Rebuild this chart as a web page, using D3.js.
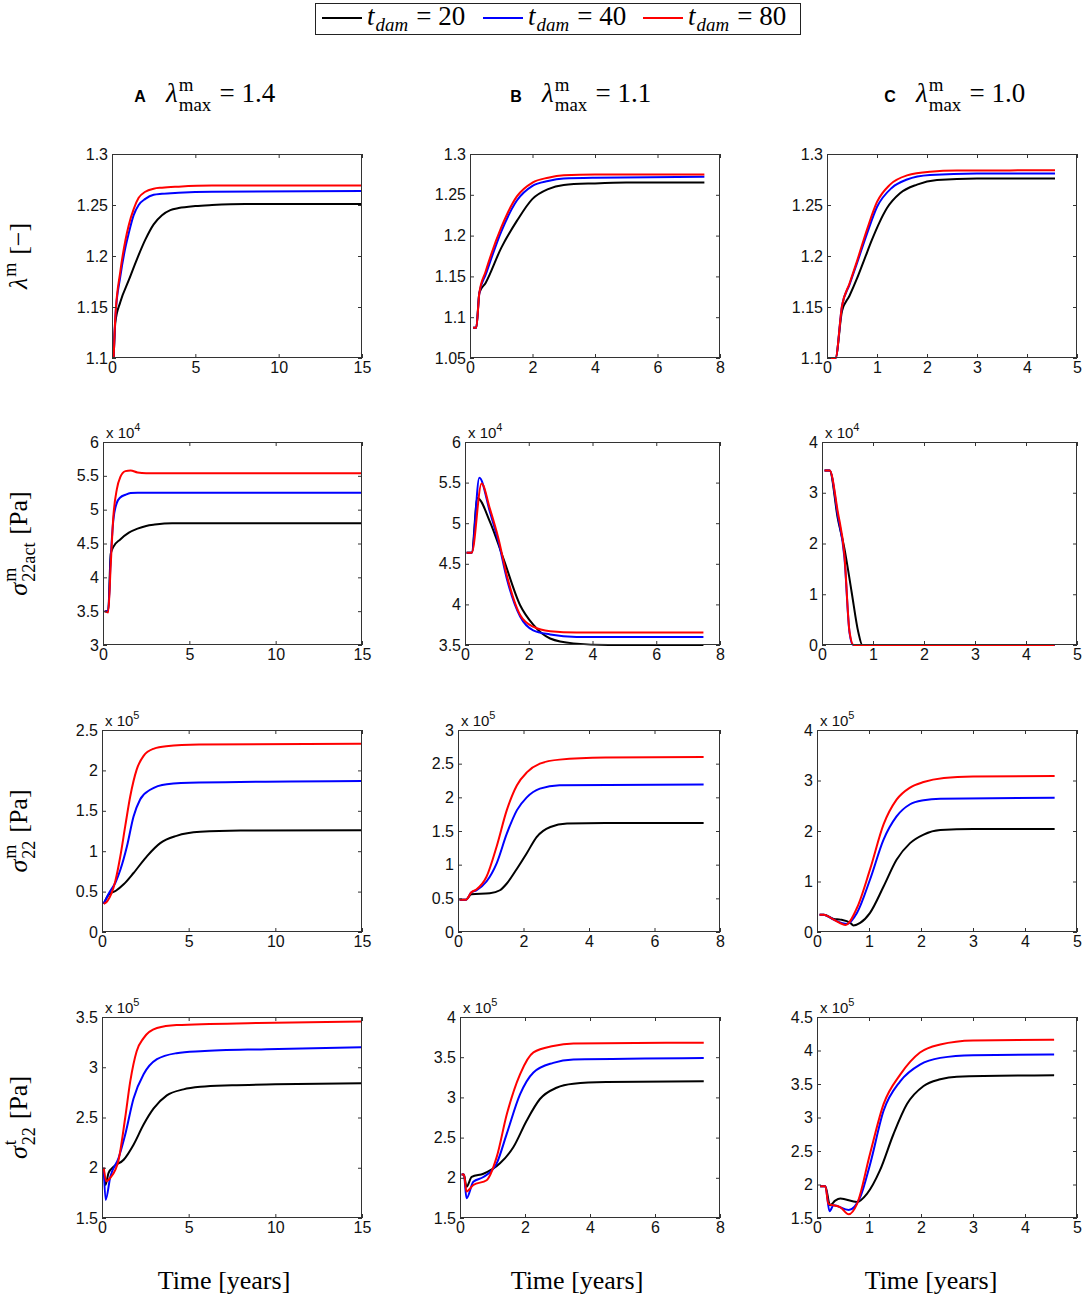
<!DOCTYPE html>
<html><head><meta charset="utf-8">
<script src="https://cdn.jsdelivr.net/npm/d3@7"></script>
<style>
body{margin:0;background:#fff;}
svg{display:block;}
text{white-space:pre;}
</style></head>
<body><svg id="c" width="1084" height="1298"></svg>
<script>
// ---------------- DATA ----------------
const seriesNames = ["t_dam = 20", "t_dam = 40", "t_dam = 80"];
const seriesValues = ["20", "40", "80"];
const columnLetters = ["A", "B", "C"];
const lambdaMax = ["1.4", "1.1", "1.0"];

const xDomainA = [0, 15], xTicksA = [0, 5, 10, 15];
const xDomainB = [0, 8],  xTicksB = [0, 2, 4, 6, 8];
const xDomainC = [0, 5],  xTicksC = [0, 1, 2, 3, 4, 5];

// row 1 : lambda^m [-]
const yTicks1A = [1.1, 1.15, 1.2, 1.25, 1.3];
const yTicks1B = [1.05, 1.1, 1.15, 1.2, 1.25, 1.3];
const yTicks1C = [1.1, 1.15, 1.2, 1.25, 1.3];
// row 2 : sigma_22act (x 10^4 Pa)
const yTicks2A = [3, 3.5, 4, 4.5, 5, 5.5, 6];
const yTicks2B = [3.5, 4, 4.5, 5, 5.5, 6];
const yTicks2C = [0, 1, 2, 3, 4];
// row 3 : sigma_22^m (x 10^5 Pa)
const yTicks3A = [0, 0.5, 1, 1.5, 2, 2.5];
const yTicks3B = [0, 0.5, 1, 1.5, 2, 2.5, 3];
const yTicks3C = [0, 1, 2, 3, 4];
// row 4 : sigma_22^t (x 10^5 Pa)
const yTicks4A = [1.5, 2, 2.5, 3, 3.5];
const yTicks4B = [1.5, 2, 2.5, 3, 3.5, 4];
const yTicks4C = [1.5, 2, 2.5, 3, 3.5, 4, 4.5];

// series as [time (years), value]
const r1A_20 = [[0.1,1.1],[0.2,1.135],[0.5,1.155],[1,1.176],[1.5,1.197],[2,1.216],[2.5,1.231],[3,1.240],[3.5,1.245],[4,1.247],[5,1.249],[6,1.250],[8,1.251],[15,1.251]];
const r1A_40 = [[0.1,1.1],[0.2,1.14],[0.5,1.18],[0.8,1.208],[1,1.222],[1.3,1.240],[1.6,1.250],[2,1.256],[2.5,1.260],[3,1.261],[4,1.262],[6,1.263],[15,1.2638]];
const r1A_80 = [[0.1,1.1],[0.2,1.14],[0.5,1.185],[0.8,1.215],[1,1.230],[1.3,1.246],[1.6,1.257],[2,1.263],[2.5,1.266],[3,1.267],[4,1.268],[6,1.269],[15,1.269]];

const r1B_20 = [[0.1,1.087],[0.2,1.087],[0.3,1.13],[0.5,1.142],[1,1.185],[1.5,1.218],[2,1.245],[2.5,1.257],[3,1.262],[4,1.264],[5,1.265],[7.5,1.265]];
const r1B_40 = [[0.1,1.087],[0.2,1.087],[0.3,1.13],[0.5,1.152],[1,1.205],[1.5,1.243],[2,1.261],[2.5,1.267],[3,1.270],[4,1.271],[7.5,1.272]];
const r1B_80 = [[0.1,1.087],[0.2,1.087],[0.3,1.13],[0.5,1.156],[1,1.21],[1.5,1.248],[2,1.265],[2.5,1.271],[3,1.274],[4,1.275],[7.5,1.275]];

const r1C_20 = [[0.07,1.1],[0.17,1.1],[0.3,1.146],[0.45,1.161],[0.6,1.178],[0.75,1.197],[0.9,1.216],[1.05,1.233],[1.2,1.247],[1.46,1.2615],[1.8,1.270],[2.2,1.2745],[3,1.276],[4.56,1.276]];
const r1C_40 = [[0.07,1.1],[0.17,1.1],[0.3,1.151],[0.45,1.172],[0.6,1.193],[0.8,1.222],[1.0,1.248],[1.3,1.267],[1.6,1.275],[2.06,1.2795],[3,1.281],[4.56,1.281]];
const r1C_80 = [[0.07,1.1],[0.17,1.1],[0.3,1.151],[0.45,1.173],[0.6,1.195],[0.8,1.226],[1.0,1.253],[1.26,1.270],[1.6,1.279],[2.06,1.2827],[2.6,1.2838],[4.56,1.284]];

const r2A_20 = [[0.1,3.5],[0.3,3.5],[0.45,4.35],[0.6,4.45],[1,4.56],[1.5,4.66],[2,4.72],[2.5,4.76],[3,4.78],[4,4.80],[6,4.80],[15,4.80]];
const r2A_40 = [[0.1,3.5],[0.3,3.5],[0.45,4.3],[0.6,4.85],[0.8,5.1],[1,5.18],[1.3,5.22],[1.6,5.245],[2,5.25],[3,5.25],[15,5.25]];
const r2A_80 = [[0.1,3.5],[0.3,3.48],[0.45,4.2],[0.6,4.9],[0.8,5.3],[1,5.48],[1.3,5.57],[1.6,5.58],[2,5.55],[2.5,5.54],[3,5.54],[15,5.54]];

const r2B_20 = [[0.05,4.635],[0.21,4.635],[0.39,5.31],[0.78,5.02],[1.2,4.57],[1.73,3.99],[2.14,3.75],[2.67,3.58],[3.4,3.52],[4.5,3.50],[7.48,3.50]];
const r2B_40 = [[0.05,4.635],[0.21,4.635],[0.45,5.56],[0.78,5.14],[1.05,4.77],[1.31,4.32],[1.73,3.85],[2.14,3.68],[2.67,3.63],[3.5,3.60],[7.48,3.60]];
const r2B_80 = [[0.05,4.635],[0.21,4.635],[0.52,5.49],[0.78,5.18],[1.05,4.81],[1.31,4.36],[1.73,3.87],[2.14,3.725],[2.67,3.67],[3.5,3.655],[7.48,3.655]];

const r2C_20 = [[0.05,3.44],[0.15,3.44],[0.31,2.49],[0.44,1.9],[0.58,1.05],[0.71,0.26],[0.79,0],[4.56,0]];
const r2C_40 = [[0.05,3.44],[0.15,3.44],[0.31,2.55],[0.44,1.72],[0.54,0.24],[0.61,0],[4.56,0]];
const r2C_80 = [[0.05,3.44],[0.15,3.44],[0.31,2.62],[0.44,1.77],[0.54,0.26],[0.62,0],[4.56,0]];

const r3A_20 = [[0.1,0.35],[0.38,0.46],[0.8,0.51],[1.25,0.59],[1.82,0.73],[2.6,0.94],[3.36,1.10],[4.3,1.19],[5.67,1.24],[8,1.255],[15,1.26]];
const r3A_40 = [[0.1,0.35],[0.4,0.48],[0.77,0.61],[1.06,0.77],[1.44,1.06],[1.82,1.43],[2.2,1.64],[2.78,1.76],[3.74,1.83],[5.6,1.85],[15,1.87]];
const r3A_80 = [[0.1,0.35],[0.3,0.38],[0.77,0.63],[1.06,0.94],[1.34,1.31],[1.63,1.68],[2.0,2.01],[2.4,2.18],[3.0,2.27],[3.7,2.30],[5.6,2.32],[15,2.33]];

const r3B_20 = [[0.05,0.478],[0.24,0.478],[0.41,0.56],[0.97,0.575],[1.28,0.62],[1.49,0.72],[1.8,0.94],[2.1,1.17],[2.4,1.41],[2.82,1.56],[3.33,1.61],[4.5,1.62],[7.5,1.62]];
const r3B_40 = [[0.05,0.478],[0.24,0.478],[0.41,0.59],[0.56,0.62],[0.87,0.75],[1.18,1.02],[1.49,1.46],[1.8,1.81],[2.1,2.0],[2.5,2.13],[3.1,2.18],[7.5,2.19]];
const r3B_80 = [[0.05,0.478],[0.24,0.478],[0.41,0.59],[0.56,0.63],[0.87,0.82],[1.18,1.27],[1.49,1.81],[1.8,2.18],[2.1,2.37],[2.5,2.50],[3.1,2.56],[4.5,2.59],[7.5,2.60]];

const r3C_20 = [[0.05,0.344],[0.13,0.344],[0.32,0.26],[0.45,0.245],[0.64,0.18],[0.7,0.13],[0.83,0.18],[1.02,0.38],[1.28,0.9],[1.53,1.43],[1.79,1.76],[2.05,1.93],[2.37,2.02],[3,2.04],[4.57,2.04]];
const r3C_40 = [[0.05,0.344],[0.13,0.344],[0.32,0.245],[0.58,0.16],[0.77,0.38],[1.02,1.04],[1.28,1.83],[1.53,2.29],[1.79,2.53],[2.05,2.61],[2.37,2.64],[4.57,2.66]];
const r3C_80 = [[0.05,0.344],[0.13,0.344],[0.32,0.245],[0.55,0.14],[0.77,0.48],[1.02,1.24],[1.28,2.13],[1.53,2.62],[1.79,2.86],[2.05,2.97],[2.44,3.05],[3,3.08],[4.57,3.09]];

const r4A_20 = [[0.1,2.0],[0.2,1.83],[0.38,1.95],[0.67,2.01],[1.25,2.08],[1.82,2.23],[2.4,2.43],[2.98,2.59],[3.74,2.72],[4.7,2.78],[5.67,2.805],[7.5,2.82],[10,2.83],[15,2.84]];
const r4A_40 = [[0.1,2.0],[0.21,1.68],[0.48,1.91],[0.96,2.10],[1.34,2.33],[1.82,2.69],[2.4,2.93],[3.17,3.08],[4.3,3.14],[5.67,3.16],[9.5,3.18],[15,3.20]];
const r4A_80 = [[0.1,2.0],[0.25,1.865],[0.48,1.90],[0.96,2.08],[1.34,2.50],[1.63,2.86],[2.0,3.16],[2.4,3.29],[3.17,3.39],[4.3,3.42],[9,3.44],[15,3.455]];

const r4B_20 = [[0.05,2.04],[0.12,2.04],[0.2,1.89],[0.36,2.01],[0.72,2.05],[1.23,2.18],[1.64,2.38],[2.05,2.71],[2.46,2.98],[2.97,3.12],[3.49,3.17],[4.5,3.19],[7.5,3.20]];
const r4B_40 = [[0.05,2.04],[0.12,2.04],[0.2,1.745],[0.41,1.95],[0.72,2.01],[1.13,2.18],[1.44,2.55],[1.85,3.04],[2.26,3.31],[2.87,3.43],[3.49,3.47],[7.5,3.49]];
const r4B_80 = [[0.05,2.04],[0.12,2.04],[0.2,1.83],[0.41,1.91],[0.82,1.97],[1.13,2.26],[1.44,2.79],[1.85,3.29],[2.26,3.56],[2.87,3.64],[3.49,3.67],[7.5,3.68]];

const r4C_20 = [[0.06,1.975],[0.16,1.975],[0.25,1.69],[0.35,1.76],[0.45,1.79],[0.77,1.74],[0.96,1.86],[1.21,2.21],[1.47,2.75],[1.73,3.2],[2.05,3.47],[2.37,3.57],[2.69,3.61],[4.56,3.63]];
const r4C_40 = [[0.06,1.975],[0.16,1.975],[0.24,1.6],[0.32,1.69],[0.61,1.62],[0.83,1.81],[1.02,2.3],[1.28,3.1],[1.6,3.54],[1.98,3.79],[2.37,3.89],[3.0,3.93],[4.56,3.94]];
const r4C_80 = [[0.06,1.975],[0.16,1.975],[0.22,1.71],[0.45,1.66],[0.61,1.555],[0.77,1.71],[1.02,2.46],[1.28,3.2],[1.6,3.64],[1.98,3.97],[2.37,4.09],[3.0,4.15],[4.56,4.16]];

// ---------------- LAYOUT ----------------
const colors = ["#000000", "#0000ff", "#ff0000"];
const rowBounds = [[154,358],[442,645],[730,932],[1017,1218]];
const colLefts = [[112,470,827],[103,465,822],[102,458,817],[102,460,817]];
const colRights = [362,720,1077];
const xLabelCenters = [224, 577, 931];
const xDomains = [xDomainA, xDomainB, xDomainC];
const xTicks = [xTicksA, xTicksB, xTicksC];
const yTickSets = [[yTicks1A,yTicks1B,yTicks1C],[yTicks2A,yTicks2B,yTicks2C],[yTicks3A,yTicks3B,yTicks3C],[yTicks4A,yTicks4B,yTicks4C]];
const seriesSets = [
  [[r1A_20,r1A_40,r1A_80],[r1B_20,r1B_40,r1B_80],[r1C_20,r1C_40,r1C_80]],
  [[r2A_20,r2A_40,r2A_80],[r2B_20,r2B_40,r2B_80],[r2C_20,r2C_40,r2C_80]],
  [[r3A_20,r3A_40,r3A_80],[r3B_20,r3B_40,r3B_80],[r3C_20,r3C_40,r3C_80]],
  [[r4A_20,r4A_40,r4A_80],[r4B_20,r4B_40,r4B_80],[r4C_20,r4C_40,r4C_80]]
];
const rowExponent = [null, "4", "5", "5"];

const svg = d3.select("#c");
const SERIF = "'Liberation Serif','Times New Roman',serif";
const SANS = "'Liberation Sans',Arial,sans-serif";
const NB = "\u00A0";

// math text helper: items {t, it} or {sup, sub, itScript}
function mathText(parent, x, y, items, size, anchor) {
  const g = parent.append("g");
  let cx = 0;
  items.forEach(it => {
    if (it.t !== undefined) {
      const te = g.append("text").attr("x", cx).attr("y", 0)
        .attr("font-family", SERIF).attr("font-size", size)
        .attr("font-style", it.it ? "italic" : "normal").text(it.t);
      cx += te.node().getComputedTextLength() + (it.it ? size*0.04 : 0);
    } else {
      let w = 0;
      const ss = size*0.7;
      if (it.sup) {
        const te = g.append("text").attr("x", cx).attr("y", -size*0.42)
          .attr("font-family", SERIF).attr("font-size", ss)
          .attr("font-style", it.itScript ? "italic" : "normal").text(it.sup);
        w = Math.max(w, te.node().getComputedTextLength());
      }
      if (it.sub) {
        const te = g.append("text").attr("x", cx).attr("y", size*(it.sup ? 0.32 : 0.22))
          .attr("font-family", SERIF).attr("font-size", ss)
          .attr("font-style", it.itScript ? "italic" : "normal").text(it.sub);
        w = Math.max(w, te.node().getComputedTextLength());
      }
      cx += w + size*0.05;
    }
  });
  let off = 0;
  if (anchor === "middle") off = -cx/2;
  else if (anchor === "end") off = -cx;
  g.attr("transform", `translate(${x + off},${y})`);
  return {g, width: cx};
}

// ---------------- LEGEND ----------------
const legend = svg.append("g");
legend.append("rect").attr("x", 315.5).attr("y", 3.5).attr("width", 485).attr("height", 31)
  .attr("fill", "#fff").attr("stroke", "#222").attr("stroke-width", 1);
const legendX = [322, 483, 643];
seriesValues.forEach((v, i) => {
  legend.append("line").attr("x1", legendX[i]).attr("x2", legendX[i] + 40)
    .attr("y1", 18).attr("y2", 18).attr("stroke", colors[i]).attr("stroke-width", 2);
  mathText(legend, legendX[i] + 45, 25, [{t:"t", it:true}, {sub:"dam", itScript:true}, {t:NB + "=" + NB + v}], 27, "start");
});

// ---------------- COLUMN HEADERS ----------------
const headerX = [140, 516, 890];
columnLetters.forEach((L, c) => {
  svg.append("text").attr("x", headerX[c]).attr("y", 102)
    .attr("font-family", SANS).attr("font-weight", "bold")
    .attr("font-size", 16).attr("text-anchor", "middle").text(L);
  mathText(svg, headerX[c] + 26, 102,
    [{t:"λ", it:true}, {sup:"m", sub:"max"}, {t:NB + "=" + NB + lambdaMax[c]}], 27, "start");
});

// ---------------- Y LABELS ----------------
const yLabelItems = [
  [{t:"λ", it:true}, {sup:"m"}, {t:NB + "[−]"}],
  [{t:"σ", it:true}, {sup:"m", sub:"22act"}, {t:NB + "[Pa]"}],
  [{t:"σ", it:true}, {sup:"m", sub:"22"}, {t:NB + "[Pa]"}],
  [{t:"σ", it:true}, {sup:"t", sub:"22"}, {t:NB + "[Pa]"}]
];
rowBounds.forEach((rb, r) => {
  const cy = (rb[0] + rb[1]) / 2;
  const holder = svg.append("g").attr("transform", `translate(27,${cy}) rotate(-90)`);
  mathText(holder, 0, 0, yLabelItems[r], 26, "middle");
});

// ---------------- X LABELS ----------------
xLabelCenters.forEach(cx => {
  svg.append("text").attr("x", cx).attr("y", 1289)
    .attr("font-family", SERIF).attr("font-size", 26).attr("text-anchor", "middle")
    .text("Time [years]");
});

// ---------------- PANELS ----------------
const fmt = v => String(+v.toFixed(3));
rowBounds.forEach((rb, r) => {
  [0,1,2].forEach(c => {
    const L = colLefts[r][c], R = colRights[c], T = rb[0], B = rb[1];
    const yt = yTickSets[r][c];
    const x = d3.scaleLinear().domain(xDomains[c]).range([L, R]);
    const y = d3.scaleLinear().domain([yt[0], yt[yt.length-1]]).range([B, T]);
    const g = svg.append("g");

    const clipId = `clip${r}${c}`;
    g.append("clipPath").attr("id", clipId).append("rect")
      .attr("x", L).attr("y", T - 2).attr("width", R - L).attr("height", B - T + 4);

    const line = d3.line().x(d => x(d[0])).y(d => y(d[1])).curve(d3.curveMonotoneX);
    const lines = g.append("g").attr("clip-path", `url(#${clipId})`);
    seriesSets[r][c].forEach((s, i) => {
      lines.append("path").datum(s).attr("d", line).attr("fill", "none")
        .attr("stroke", colors[i]).attr("stroke-width", 2).attr("stroke-linejoin", "round");
    });

    const ax = (gen, tr, labels) => {
      const a = g.append("g").attr("transform", tr).call(gen);
      a.select(".domain").remove();
      a.selectAll(".tick line").attr("stroke", "#333");
      if (!labels) a.selectAll("text").remove();
      a.attr("font-size", 16).attr("font-family", SANS);
      a.selectAll("text").attr("fill", "#111");
      return a;
    };
    ax(d3.axisBottom(x).tickValues(xTicks[c]).tickSizeInner(-4).tickSizeOuter(0).tickPadding(4).tickFormat(fmt), `translate(0,${B})`, true);
    ax(d3.axisTop(x).tickValues(xTicks[c]).tickSizeInner(-4).tickSizeOuter(0), `translate(0,${T})`, false);
    ax(d3.axisLeft(y).tickValues(yt).tickSizeInner(-4).tickSizeOuter(0).tickPadding(4).tickFormat(fmt), `translate(${L},0)`, true);
    ax(d3.axisRight(y).tickValues(yt).tickSizeInner(-4).tickSizeOuter(0), `translate(${R},0)`, false);

    g.append("rect").attr("x", L + 0.5).attr("y", T + 0.5).attr("width", R - L - 1).attr("height", B - T - 1)
      .attr("fill", "none").attr("stroke", "#333").attr("stroke-width", 1);

    if (rowExponent[r]) {
      const t = g.append("text").attr("x", L + 3).attr("y", T - 4)
        .attr("font-family", SANS).attr("font-size", 15).attr("fill", "#111");
      t.append("tspan").text("x 10");
      t.append("tspan").attr("dy", -7).attr("font-size", 11).text(rowExponent[r]);
    }
  });
});
</script>
</body></html>
